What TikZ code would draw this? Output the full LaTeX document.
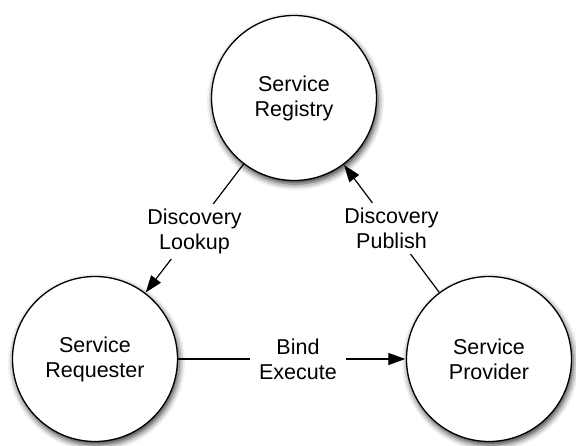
\documentclass[tikz,border=0pt]{standalone}
\usepackage{fontspec}
\setmainfont{Liberation Sans}
\usepackage{tikz}
\usetikzlibrary{arrows.meta, shadows.blur}
\tikzset{
    role/.style={
        circle,
        draw=black,
        line width=1.3pt,
        minimum size=165pt,
        inner sep=0pt,
        fill=white,
        align=center,
        font=\fontsize{21.5}{25}\selectfont,
        blur shadow={shadow xshift=1.5pt, shadow yshift=-3.5pt,
            shadow blur radius=6pt, shadow opacity=80}
    },
    link/.style={
        draw=black,
        line width=1.2pt,
        -{Triangle[length=17pt,width=12pt]},
        shorten >=0.5pt
    },
    linklabel/.style={
        fill=white,
        align=center,
        inner xsep=9pt,
        inner ysep=5pt,
        font=\fontsize{21.5}{25}\selectfont
    }
}
\begin{document}
\begin{tikzpicture}[x=1pt, y=1pt]
\useasboundingbox (0,0) rectangle (576,445);

% Roles
\node[role] (registry) at (294,347) {Service\\Registry};
\node[role] (requester) at (95,86) {Service\\Requester};
\node[role] (provider) at (489,86) {Service\\Provider};

% Interactions
\draw[link] (registry) -- node[linklabel, yshift=-3pt] {Discovery\\Lookup} (requester);
\draw[link] (provider) -- node[linklabel] {Discovery\\Publish} (registry);
\draw[link] (requester) -- node[linklabel, xshift=6pt] {Bind\\Execute} (provider);

\end{tikzpicture}
\end{document}
